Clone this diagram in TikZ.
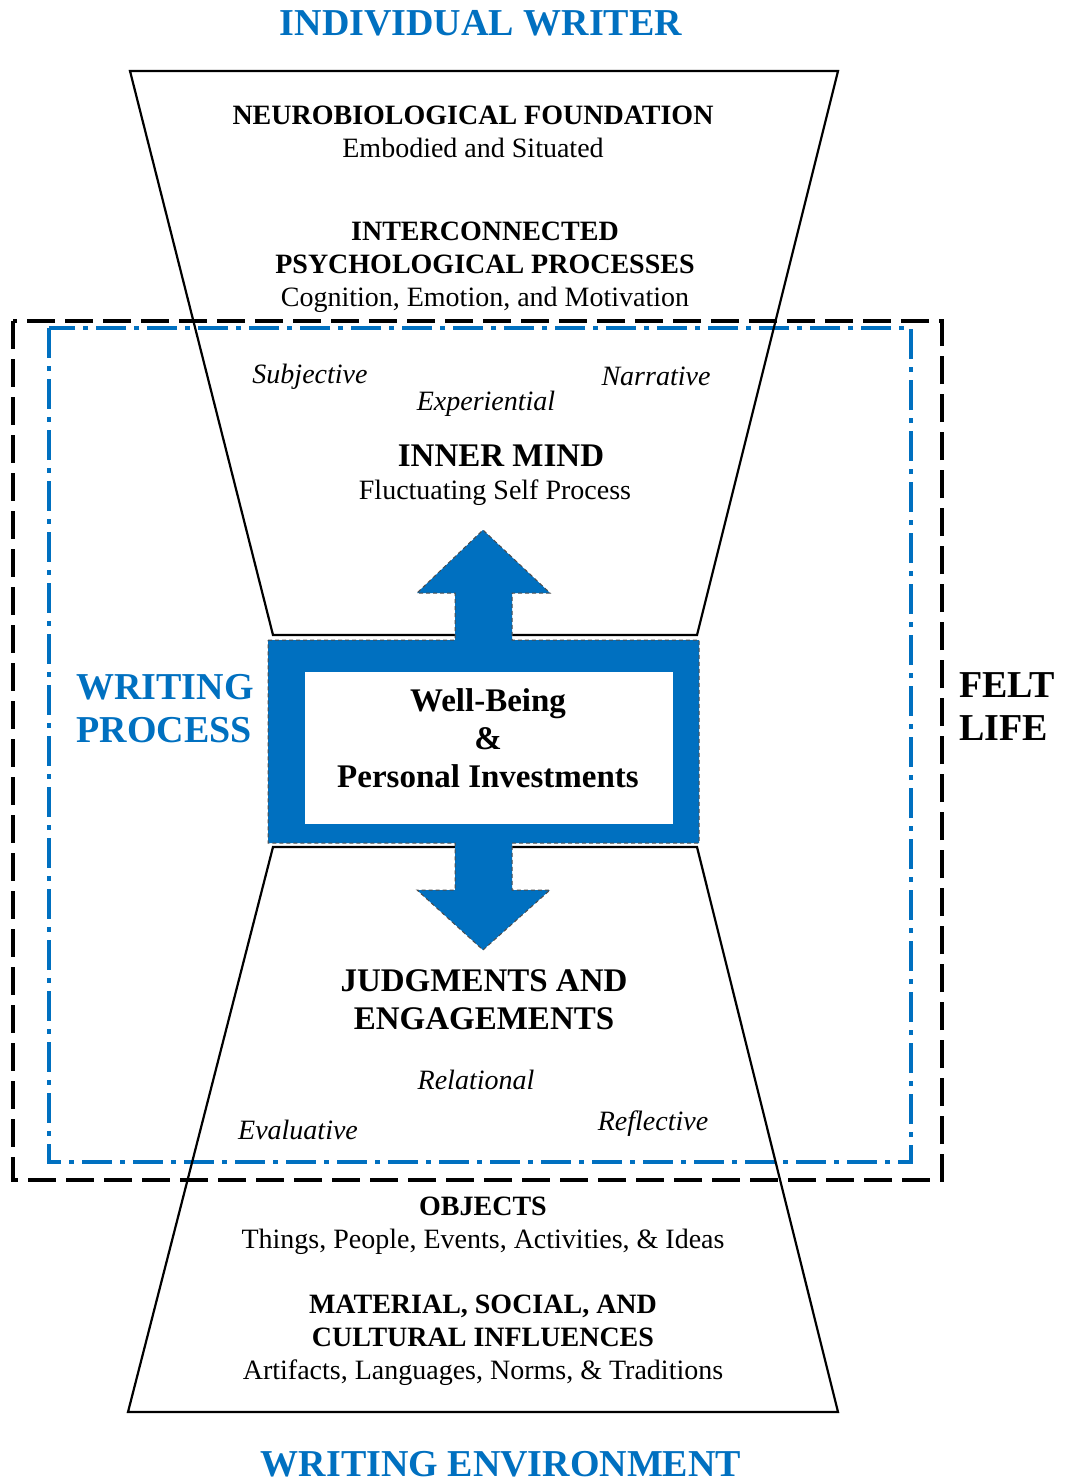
\documentclass[tikz,border=0pt]{standalone}
\usepackage{fontspec}
\setmainfont{Liberation Serif}
\usetikzlibrary{positioning, calc}
\definecolor{penblue}{HTML}{0070C0}

\begin{document}
\begin{tikzpicture}[x=0.5pt, y=-0.5pt,
  layer/.style={font=\fontsize{14}{16.5}\selectfont,
    align=center,
    inner sep=0pt},
  core/.style={font=\fontsize{16.5}{19}\selectfont\bfseries,
    align=center,
    inner sep=0pt},
  pole/.style={font=\fontsize{19}{21.5}\selectfont\bfseries,
    text=penblue,
    align=left,
    inner sep=0pt},
  facet/.style={font=\fontsize{14}{16}\selectfont\itshape,
    inner sep=0pt},
  funnel/.style={draw, line width=1.1pt},
  feltframe/.style={draw, line width=1.7pt, dash pattern=on 14pt off 5pt},
  processframe/.style={draw=penblue, line width=1.6pt,
    dash pattern=on 15pt off 4pt on 2.5pt off 4pt}]

  \useasboundingbox (0,0) rectangle (1065,1482);

% FRAMES

  \draw[feltframe] (13,321) rectangle (942,1180);
  \draw[processframe] (49,328) rectangle (911,1162);

% FUNNELS

  \draw[funnel] (130,71) -- (838,71) -- (697,635) -- (273,635) -- cycle;
  \draw[funnel] (273,847) -- (697,847) -- (838,1412) -- (128,1412) -- cycle;

% WELL-BEING BOX AND ARROWS

  \draw[fill=penblue, draw=black!70, line width=0.5pt,
    dash pattern=on 2pt off 1.5pt]
    (268,640) -- (455,640) -- (455,593) -- (417,593) -- (483,530)
    -- (550,593) -- (512,593) -- (512,640) -- (699,640) -- (699,843)
    -- (512,843) -- (512,890) -- (550,890) -- (483,950) -- (417,890)
    -- (455,890) -- (455,843) -- (268,843) -- cycle;
  \fill[white] (305,672) rectangle (673,824);

  \node [core] (wellbeing) at (488,738) {Well-Being\\\&\\Personal Investments};

% TITLES

  \node [pole] (writer) at (481,23) {INDIVIDUAL WRITER};
  \node [pole] (environment) at (501,1464) {WRITING ENVIRONMENT};
  \node [pole, anchor=west] (process) at (76,709) {WRITING\\PROCESS};
  \node [pole, text=black, anchor=west] (feltlife) at (959,707) {FELT\\LIFE};

% UPPER LAYERS

  \node [layer] (neuro) at (473,132) {%
    \textbf{NEUROBIOLOGICAL FOUNDATION}\\
    Embodied and Situated};
  \node [layer] (psych) at (485,267) {%
    \textbf{INTERCONNECTED}\\
    \textbf{PSYCHOLOGICAL PROCESSES}\\
    Cognition, Emotion, and Motivation};

  \node [facet] (subjective) at (310,377) {Subjective};
  \node [facet] (narrative) at (656,376) {Narrative};
  \node [facet] (experiential) at (486,404) {Experiential};

  \node [layer] (innermind) at (495,475) {%
    \hspace*{6pt}{\fontsize{16.5}{19}\selectfont\bfseries INNER MIND}\\
    Fluctuating Self Process};

% LOWER LAYERS

  \node [core] (judgments) at (484,1000) {JUDGMENTS AND\\ENGAGEMENTS};

  \node [facet] (relational) at (476,1080) {Relational};
  \node [facet] (evaluative) at (298,1130) {Evaluative};
  \node [facet] (reflective) at (653,1124) {Reflective};

  \node [layer] (objects) at (483,1226) {%
    \textbf{OBJECTS}\\
    Things, People, Events, Activities, \& Ideas};
  \node [layer] (influences) at (483,1340) {%
    \textbf{MATERIAL, SOCIAL, AND}\\
    \textbf{CULTURAL INFLUENCES}\\
    Artifacts, Languages, Norms, \& Traditions};

\end{tikzpicture}
\end{document}
